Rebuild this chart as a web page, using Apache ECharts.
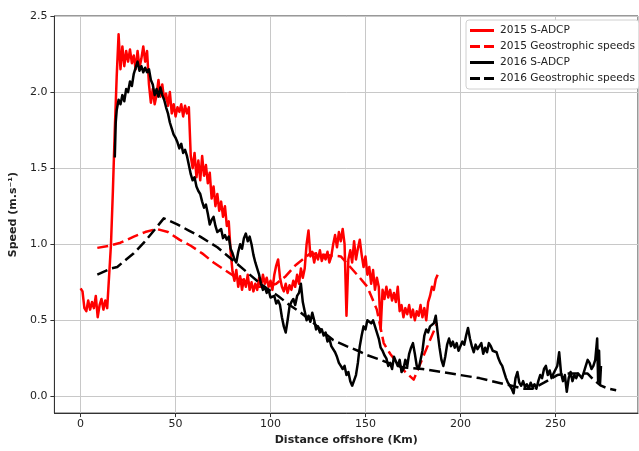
<!DOCTYPE html>
<html>
<head>
<meta charset="utf-8">
<script src="https://cdn.jsdelivr.net/npm/echarts@6/dist/echarts.min.js"></script>
<style>
  html, body { margin: 0; padding: 0; background: #fff; }
  #chart { width: 639px; height: 451px; }
</style>
</head>
<body>
<div id="chart"></div>
<script>
// Along-track speeds, [distance offshore (km), speed (m/s)]
const adcp2015 = [
  [0,0.71],[1,0.69],[2,0.58],[3,0.56],[4,0.63],[5,0.57],[6,0.62],[7,0.58],[8,0.66],[9,0.52],
  [10,0.60],[11,0.64],[12,0.57],[13,0.63],[14,0.58],[15,0.57],[16,1.0],[17,1.35],[18,1.75],[19,2.1],
  [20,2.38],[21,2.15],[22,2.3],[23,2.17],[24,2.27],[25,2.2],[26,2.28],[27,2.19],[28,2.24],[29,2.15],
  [30,2.27],[31,2.16],[32,2.22],[33,2.3],[34,2.2],[35,2.27],[36,2.05],[37,1.93],[38,2.02],[39,1.92],
  [40,1.98],[41,2.08],[42,1.97],[43,2.05],[44,1.95],[45,1.99],[46,1.91],[47,2.0],[48,1.86],[49,1.92],
  [50,1.84],[51,1.90],[52,1.87],[53,1.92],[54,1.84],[55,1.91],[56,1.86],[57,1.90],[58,1.58],[59,1.50],
  [60,1.60],[61,1.44],[62,1.55],[63,1.42],[64,1.58],[65,1.45],[66,1.52],[67,1.40],[68,1.47],[69,1.30],
  [70,1.38],[71,1.25],[72,1.33],[73,1.22],[74,1.28],[75,1.18],[76,1.25],[77,1.12],[78,1.15],[79,0.95],
  [80,0.82],[81,0.76],[82,0.83],[83,0.72],[84,0.79],[85,0.70],[86,0.77],[87,0.72],[88,0.80],[89,0.70],
  [90,0.75],[91,0.69],[92,0.74],[93,0.70],[94,0.78],[95,0.72],[96,0.80],[97,0.74],[98,0.78],[99,0.72],
  [100,0.76],[101,0.70],[102,0.80],[103,0.86],[104,0.90],[105,0.78],[106,0.72],[107,0.69],[108,0.74],[109,0.68],
  [110,0.73],[111,0.70],[112,0.76],[113,0.72],[114,0.80],[115,0.74],[116,0.84],[117,0.78],[118,0.84],[119,1.0],
  [120,1.09],[121,0.92],[122,0.95],[123,0.88],[124,0.94],[125,0.90],[126,0.96],[127,0.89],[128,0.93],[129,0.90],
  [130,0.95],[131,0.88],[132,0.92],[133,1.0],[134,1.06],[135,0.98],[136,1.08],[137,1.02],[138,1.10],[139,1.0],
  [140,0.53],[141,0.90],[142,0.96],[143,0.88],[144,1.02],[145,0.90],[146,0.97],[147,1.03],[148,0.93],[149,0.85],
  [150,0.92],[151,0.80],[152,0.85],[153,0.74],[154,0.83],[155,0.70],[156,0.78],[157,0.72],[158,0.44],[159,0.70],
  [160,0.64],[161,0.72],[162,0.65],[163,0.70],[164,0.63],[165,0.68],[166,0.62],[167,0.72],[168,0.56],[169,0.60],
  [170,0.52],[171,0.58],[172,0.54],[173,0.60],[174,0.52],[175,0.57],[176,0.50],[177,0.56],[178,0.53],[179,0.60],
  [180,0.52],[181,0.58],[182,0.50],[183,0.62],[184,0.66],[185,0.72],[186,0.70],[187,0.77],[188,0.80]
];

const geo2015 = [
  [8.8,0.976],[15,0.99],[21,1.01],[28,1.05],[34,1.08],[40,1.10],[46,1.08],[52,1.03],[58,0.99],[64,0.94],
  [70,0.88],[76,0.83],[82,0.78],[88,0.75],[94,0.72],[98,0.72],[103,0.74],[108,0.79],[113,0.86],[118,0.91],
  [121,0.94],[128,0.93],[137,0.92],[142,0.85],[147,0.78],[151,0.72],[156,0.57],[159.6,0.35],[163,0.28],[166.7,0.22],
  [171,0.16],[175.4,0.11],[180.7,0.27],[184,0.37],[187.7,0.48]
];

const adcp2016 = [
  [18,1.57],[18.5,1.80],[19,1.88],[20,1.95],[21,1.92],[22,1.98],[23,1.94],[24,2.02],[25,2.0],[26,2.07],
  [27,2.04],[28,2.12],[29,2.16],[30,2.20],[31,2.14],[32,2.17],[33,2.13],[34,2.16],[35,2.13],[36,2.15],
  [37,2.08],[38,2.05],[39,1.98],[40,2.02],[41,1.97],[42,2.03],[43,1.98],[44,1.95],[45,1.90],[46,1.86],
  [47,1.80],[48,1.76],[49,1.72],[50,1.70],[51,1.67],[52,1.63],[53,1.66],[54,1.60],[55,1.62],[56,1.58],
  [57,1.52],[58,1.46],[59,1.42],[60,1.44],[61,1.38],[62,1.35],[63,1.33],[64,1.28],[65,1.24],[66,1.26],
  [67,1.20],[68,1.13],[69,1.16],[70,1.18],[71,1.12],[72,1.08],[73,1.07],[74,1.10],[75,1.04],[76,1.06],
  [77,1.03],[78,1.05],[79,0.97],[80,0.94],[81,0.90],[82,0.88],[83,0.95],[84,1.0],[85,0.97],[86,1.04],
  [87,1.07],[88,1.02],[89,1.05],[90,1.0],[91,0.93],[92,0.88],[93,0.84],[94,0.80],[95,0.74],[96,0.70],
  [97,0.72],[98,0.68],[99,0.70],[100,0.65],[101,0.64],[102,0.66],[103,0.61],[104,0.63],[105,0.60],[106,0.52],
  [107,0.46],[108,0.42],[109,0.50],[110,0.59],[111,0.62],[112,0.64],[113,0.60],[114,0.66],[115,0.68],[116,0.74],
  [117,0.62],[118,0.56],[119,0.50],[120,0.53],[121,0.49],[122,0.55],[123,0.50],[124,0.44],[125,0.46],[126,0.42],
  [127,0.44],[128,0.40],[129,0.42],[130,0.36],[131,0.38],[132,0.33],[133,0.34],[134,0.29],[135,0.26],[136,0.22],
  [137,0.20],[138,0.18],[139,0.20],[140,0.14],[141,0.16],[142,0.10],[143,0.07],[144,0.06],[145,0.14],[146,0.22],
  [147,0.33],[148,0.40],[149,0.46],[150,0.44],[151,0.50],[152,0.51],[153,0.48],[154,0.50],[155,0.46],[156,0.45],
  [157,0.38],[158,0.32],[159,0.30],[160,0.27],[161,0.25],[162,0.20],[163,0.22],[164,0.18],[165,0.26],[166,0.27],
  [167,0.20],[168,0.24],[169,0.16],[170,0.18],[171,0.24],[172,0.20],[173,0.28],[174,0.32],[175,0.35],[176,0.28],
  [177,0.20],[178,0.18],[179,0.19],[180,0.30],[181,0.40],[182,0.44],[183,0.42],[184,0.46],[185,0.45],[186,0.48],
  [187,0.53],[188,0.42],[189,0.32],[190,0.24],[191,0.20],[192,0.26],[193,0.34],[194,0.38],[195,0.33],[196,0.36],
  [197,0.32],[198,0.35],[199,0.30],[200,0.31],[201,0.36],[202,0.34],[203,0.40],[204,0.45],[205,0.38],[206,0.33],
  [207,0.29],[208,0.34],[209,0.31],[210,0.32],[211,0.35],[212,0.28],[213,0.32],[214,0.29],[215,0.35],[216,0.33],
  [217,0.30],[218,0.31],[219,0.29],[220,0.25],[221,0.22],[222,0.20],[223,0.16],[224,0.12],[225,0.09],[226,0.08],
  [227,0.05],[228,0.02],[229,0.12],[230,0.16],[231,0.09],[232,0.07],[233,0.10],[234,0.06],[235,0.08],[236,0.05],
  [237,0.09],[238,0.06],[239,0.08],[240,0.05],[241,0.10],[242,0.14],[243,0.12],[244,0.18],[245,0.20],[246,0.14],
  [247,0.17],[248,0.12],[249,0.15],[250,0.14],[251,0.20],[252,0.29],[253,0.15],[254,0.10],[255,0.14],[256,0.03],
  [257,0.12],[258,0.16],[259,0.10],[260,0.14],[261,0.12],[262,0.15],[263,0.14],[264,0.12],[265,0.16],[266,0.20],
  [267,0.24],[268,0.22],[269,0.18],[270,0.20],[271,0.24],[272,0.38],[272.5,0.10],[273,0.30],[273.5,0.08],[274,0.20]
];

const geo2016 = [
  [8.8,0.80],[16,0.84],[19.3,0.85],[24,0.90],[28,0.94],[33.3,1.01],[38,1.08],[43.8,1.17],[50.9,1.13],[57,1.09],
  [63,1.05],[72,0.98],[82.5,0.87],[94.7,0.74],[98,0.71],[104,0.66],[110,0.60],[116,0.55],[122,0.49],[128,0.42],
  [133,0.37],[140,0.33],[146,0.30],[151,0.27],[158,0.24],[164,0.21],[170,0.19],[180,0.18],[190,0.16],[200,0.14],
  [210,0.12],[220,0.09],[227,0.07],[233,0.05],[238,0.05],[244,0.09],[251,0.14],[256,0.15],[262,0.15],[267,0.15],
  [270,0.11],[274,0.07],[278,0.05],[282,0.04]
];

const seriesNames = ['2015 S-ADCP', '2015 Geostrophic speeds', '2016 S-ADCP', '2016 Geostrophic speeds'];

const FONT = 'DejaVu Sans';
const SOLID_ICON = 'path://M0,0H24V3H0Z';
const DASHED_ICON = 'path://M0,0H10V3H0Z M14,0H24V3H14Z';

const chart = echarts.init(document.getElementById('chart'), null, { renderer: 'canvas' });

function lineSeries(name, data, color, dashed) {
  return {
    name: name,
    type: 'line',
    data: data,
    showSymbol: false,
    symbol: 'none',
    animation: false,
    lineStyle: { color: color, width: 2.5, type: dashed ? [11, 5] : 'solid', join: 'round' },
    itemStyle: { color: color }
  };
}

chart.setOption({
  backgroundColor: '#ffffff',
  animation: false,
  textStyle: { fontFamily: FONT },
  grid: {
    left: 54, right: 1, top: 16, bottom: 33,
    show: true, borderColor: '#333', borderWidth: 1, backgroundColor: 'transparent'
  },
  legend: {
    orient: 'vertical',
    left: 466, top: 20,
    data: [
      { name: seriesNames[0], icon: SOLID_ICON },
      { name: seriesNames[1], icon: DASHED_ICON },
      { name: seriesNames[2], icon: SOLID_ICON },
      { name: seriesNames[3], icon: DASHED_ICON }
    ],
    itemWidth: 24, itemHeight: 3, itemGap: 5,
    padding: [5, 4, 5, 4],
    backgroundColor: '#ffffff',
    borderColor: '#d0d0d0', borderWidth: 1, borderRadius: 3,
    textStyle: { fontFamily: FONT, fontSize: 10.6, color: '#222', padding: [0, 0, 0, 1] }
  },
  xAxis: {
    type: 'value',
    min: -13.8, max: 293.5,
    splitNumber: 5,
    name: 'Distance offshore (Km)',
    nameLocation: 'middle',
    nameGap: 21,
    nameTextStyle: { fontFamily: FONT, fontSize: 11, fontWeight: 'bold', color: '#222' },
    axisLine: { show: true, onZero: false, lineStyle: { color: '#333', width: 1 } },
    axisTick: { show: true, inside: false, length: 4, lineStyle: { color: '#333' } },
    axisLabel: { showMinLabel: false, showMaxLabel: false, fontFamily: FONT, fontSize: 11, color: '#222', margin: 6 },
    splitLine: { show: true, lineStyle: { color: '#c8c8c8', width: 1 } }
  },
  yAxis: {
    type: 'value',
    min: -0.11, max: 2.5,
    splitNumber: 5,
    name: 'Speed (m.s⁻¹)',
    nameLocation: 'middle',
    nameGap: 35,
    nameTextStyle: { fontFamily: FONT, fontSize: 11, fontWeight: 'bold', color: '#222' },
    axisLine: { show: true, onZero: false, lineStyle: { color: '#333', width: 1 } },
    axisTick: { show: true, inside: false, length: 4, lineStyle: { color: '#333' } },
    axisLabel: {
      showMinLabel: false, fontFamily: FONT, fontSize: 11, color: '#222', margin: 7,
      formatter: function (v) { return v.toFixed(1); }
    },
    splitLine: { show: true, lineStyle: { color: '#c8c8c8', width: 1 } }
  },
  series: [
    lineSeries(seriesNames[0], adcp2015, '#ff0000', false),
    lineSeries(seriesNames[1], geo2015, '#ff0000', true),
    lineSeries(seriesNames[2], adcp2016, '#000000', false),
    lineSeries(seriesNames[3], geo2016, '#000000', true)
  ]
});
</script>
</body>
</html>
